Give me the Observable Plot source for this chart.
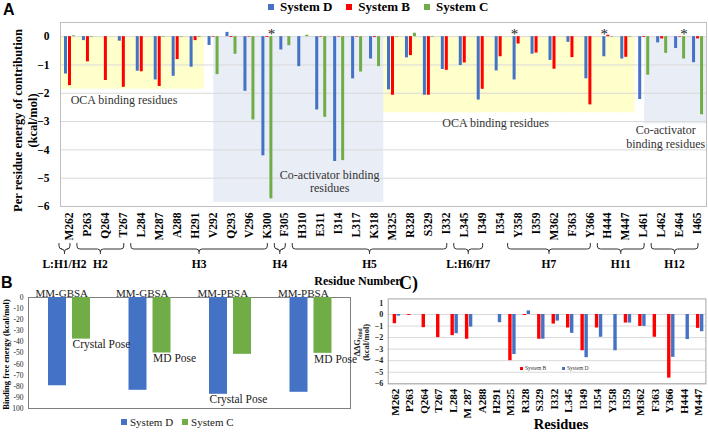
<!DOCTYPE html>
<html><head><meta charset="utf-8">
<script src="https://cdn.jsdelivr.net/npm/d3@7"></script>
<script src="https://cdn.jsdelivr.net/npm/@observablehq/plot@0.6"></script>
<style>
html,body{margin:0;padding:0;background:#fff;}
#wrap{position:relative;width:708px;height:433px;overflow:hidden;font-family:"Liberation Serif","Times New Roman",serif;color:#000;}
.abs{position:absolute;}
.leg{display:flex;align-items:center;white-space:nowrap;}
.sw{display:inline-block;}
</style></head><body><div id="wrap"></div>
<script>
// ---------- Panel A data ----------
const residues = ["M262","P263","Q264","T267","L284","M287","A288","H291","V292","Q293","V296","K300","F305","H310","E311","I314","L317","K318","M325","R328","S329","I332","L345","I349","I354","Y358","I359","M362","F363","Y366","H444","M447","L461","L462","E464","I465"];
const systemD = [-1.32,-0.14,0,-0.16,-1.22,-1.53,-1.4,-1.08,-0.31,0.15,-1.93,-4.21,-0.47,-1.06,-2.59,-4.41,-1.49,-0.79,-1.88,-0.75,-2.07,-1.16,-1.02,-2.24,-1.21,-1.53,-0.62,-0.84,-0.2,-1.49,-0.71,-0.79,-2.22,-0.22,-0.42,-0.92];
const systemB = [-1.73,-0.89,-1.55,-1.79,-1.24,-1.76,-0.81,-0.14,-0.02,-0.03,-0.02,-0.03,0,0,-0.02,-0.02,-0.02,-0.03,-2.07,-0.67,-2.07,-1.19,-0.93,-1.86,-0.71,-0.26,-0.58,-1.15,-0.74,-2.41,0.05,-0.73,-0.03,-0.08,-0.02,-0.08];
const systemC = [0.03,-0.02,0,0,0,-0.02,-0.02,-0.03,-1.34,-0.62,-2.94,-5.73,-0.32,0.05,-2.85,-4.38,-1.25,-1.06,-0.02,0.12,-0.02,0,0,0,0,0,0,0,0,0,-0.02,-0.02,-1.36,-0.59,-0.79,-2.76];
const systemsA = ["System D","System B","System C"];
const yTicksA = [0,-1,-2,-3,-4,-5,-6];
const helixLabels = ["L:H1/H2","H2","H3","H4","H5","L:H6/H7","H7","H11","H12"];
const helixFrom = ["M262","P263","L284","F305","H310","L345","Y358","H444","L462"];
const helixTo = ["M262","T267","K300","F305","I332","I349","Y366","L461","I465"];
const regionKinds = ["oca","coact","oca","coact"];
const regionFrom = ["M262","V292","M325","L461"];
const regionTo = ["H291","K318","M447","I465"];
const regionDepth = [-1.85,-5.85,-2.68,-3.07];
const regionText = ["OCA binding residues","Co-activator binding\nresidues","OCA binding residues","Co-activator\nbinding residues"];
const regionTextAt = ["M262","E311","I354","L462"];
const regionTextY = [-2.23,-5.1,-3.04,-3.52];
const starResidues = ["K300","Y358","H444","E464"];
const starSystems = ["System C","System D","System D","System C"];

// ---------- Panel B data ----------
const bMethods = ["MM-GBSA","MM-GBSA","MM-PBSA","MM-PBSA"];
const bPoses = ["Crystal Pose","MD Pose","Crystal Pose","MD Pose"];
const bSystemD = [-79.5,-83.6,-87.2,-85.4];
const bSystemC = [-37.5,-50,-51.2,-50.3];
const bPoseUnder = ["System C","System C","System D","System C"];
const bTicks = [0,-10,-20,-30,-40,-50,-60,-70,-80,-90,-100];

// ---------- Panel C data ----------
const cResidues = ["M262","P263","Q264","T267","L284","M 287","A288","H291","M325","R328","S329","I332","L345","I349","I354","Y358","I359","M362","F363","Y366","H444","M447"];
const cSystemB = [-0.8,-0.08,-1.14,-2.0,-1.83,-2.14,0,0,-4.0,-0.09,-2.14,-0.83,-1.17,-3.14,-1.17,0,-0.74,-1.03,-1.97,-5.51,0,-1.2];
const cSystemD = [-0.14,0,0,0,-1.66,-1.09,0,-0.71,-3.46,0.31,-2.14,-0.57,-1.63,-3.74,-1.97,-3.14,-0.74,-1.03,0,-3.71,-2.17,-1.49];
const cTicks = [1,0,-1,-2,-3,-4,-5,-6];

// ---------- styles ----------
const BLUE = "#4472C4", RED = "#FF0000", GREEN = "#70AD47";
const colorsA = [BLUE, RED, GREEN];
const SERIF = "'Liberation Serif','Times New Roman',serif";
const wrap = document.getElementById("wrap");

function place(el, left, top) {
  const d = document.createElement("div");
  d.className = "abs"; d.style.left = left + "px"; d.style.top = top + "px";
  d.appendChild(el); wrap.appendChild(d); return d;
}
function html(s, left, top, css) {
  const d = document.createElement("div");
  d.className = "abs"; d.style.left = left + "px"; d.style.top = top + "px";
  d.style.cssText += css || ""; d.innerHTML = s; wrap.appendChild(d); return d;
}

// ================= Panel A =================
const WA = 708, HA = 292, mA = {t: 22, r: 2, b: 86, l: 60};
const bwA = (WA - mA.l - mA.r) / residues.length;
const barW = 3, sysOff = [4, 8, 12];
const dataA = residues.flatMap((r, i) => [
  {res: r, sys: "System D", v: systemD[i]},
  {res: r, sys: "System B", v: systemB[i]},
  {res: r, sys: "System C", v: systemC[i]}
]);
const cells = [];
regionKinds.forEach((kind, j) => {
  const i0 = residues.indexOf(regionFrom[j]), i1 = residues.indexOf(regionTo[j]);
  for (let i = i0; i <= i1; i++) cells.push({res: residues[i], depth: regionDepth[j], kind, lead: i === i0});
});
const fillOf = {oca: "#FFFFCC", coact: "#E9EDF6"};
const regionMarks = [
  Plot.barY(cells.filter(c => c.kind === "oca"), {x: "res", y1: 0, y2: "depth", fill: fillOf.oca, stroke: fillOf.oca, strokeWidth: 0.6}),
  Plot.barY(cells.filter(c => c.kind === "coact" && !c.lead), {x: "res", y1: 0, y2: "depth", fill: fillOf.coact, stroke: fillOf.coact, strokeWidth: 0.6}),
  Plot.barY(cells.filter(c => c.kind === "coact" && c.lead), {x: "res", y1: 0, y2: "depth", fill: fillOf.coact, stroke: fillOf.coact, strokeWidth: 0.6, insetLeft: 10})
];
const regionDx = [54.5, 9, -4.5, 4];
const regionLabelMarks = regionText.map((t, j) => Plot.text([{at: regionTextAt[j], y: regionTextY[j], t}], {
  x: "at", y: "y", text: "t", dx: regionDx[j], fontSize: 12, lineHeight: 1.15, fill: "#333", fontWeight: "normal"
}));
const barsA = systemsA.map((s, k) => Plot.barY(dataA.filter(d => d.sys === s), {
  x: "res", y1: 0, y2: "v", fill: colorsA[k], insetLeft: sysOff[k], insetRight: bwA - sysOff[k] - barW
}));
const starMarks = starResidues.map((r, j) => {
  const k = systemsA.indexOf(starSystems[j]);
  return Plot.text([{res: r}], {x: "res", y: 0, text: () => "*", dx: sysOff[k] + barW / 2 - bwA / 2, dy: -2, fontSize: 15, fill: "#222"});
});

const chartA = Plot.plot({
  width: WA, height: HA, marginTop: mA.t, marginRight: mA.r, marginBottom: mA.b, marginLeft: mA.l,
  style: {fontFamily: SERIF, background: "none", overflow: "visible"},
  x: {domain: residues, padding: 0, round: false},
  y: {domain: [-6, 0.5]},
  marks: [
    ...regionMarks,
    Plot.ruleY(yTicksA, {stroke: "#d9d9d9", strokeWidth: 1}),
    Plot.frame({stroke: "#bfbfbf"}),
    Plot.axisY(yTicksA, {tickSize: 0, tickPadding: 11, fontSize: 11.5, fontWeight: "bold", fill: "#000", label: null}),
    Plot.axisX({tickRotate: -90, tickSize: 0, tickPadding: 6, fontSize: 11.5, fontWeight: "bold", fill: "#000", label: null}),
    ...barsA,
    ...starMarks,
    ...regionLabelMarks,
    Plot.text(["Per residue energy of contribution\n(kcal/mol)"], {text: d => d, frameAnchor: "left", textAnchor: "middle", rotate: -90, dx: -35.5, dy: 6, fontSize: 12.5, fontWeight: "bold", lineHeight: 1.2, fill: "#000"}),
    Plot.text(["Residue Number"], {text: d => d, frameAnchor: "bottom", textAnchor: "middle", dy: 78, dx: -26, fontSize: 12, fontWeight: "bold", fill: "#000"})
  ]
});
place(chartA, 0, 0);

// helix brackets, positioned through Plot's own x / y scales
(function () {
  const xs = chartA.scale("x"), ys = chartA.scale("y");
  const bw = xs.bandwidth || bwA;
  const yb = ys.apply(-6);
  const g = d3.select(chartA).append("g");
  helixLabels.forEach((lab, j) => {
    const x0 = xs.apply(helixFrom[j]) - 1;
    const x1 = xs.apply(helixTo[j]) + bw - 8;
    const m = (x0 + x1) / 2;
    const yt = yb + 37, yh = yb + 43, yd = yb + 48;
    g.append("path")
      .attr("d", `M${x0},${yt} L${x0},${yh - 3} Q${x0},${yh} ${x0 + 3},${yh} L${m - 3},${yh} Q${m},${yh} ${m},${yh + 3} L${m},${yd} M${m},${yh + 3} Q${m},${yh} ${m + 3},${yh} L${x1 - 3},${yh} Q${x1},${yh} ${x1},${yh - 3} L${x1},${yt}`)
      .attr("fill", "none").attr("stroke", "#333").attr("stroke-width", 1);
    g.append("text").attr("x", m).attr("y", yb + 62).attr("text-anchor", "middle")
      .attr("font-family", SERIF).attr("font-size", 11.5).attr("font-weight", "bold").attr("fill", "#000").text(lab);
  });
})();

// legend A
(function () {
  const lg = document.createElement("div"); lg.className = "leg";
  lg.style.cssText += "font-weight:bold;font-size:13px;gap:14px;line-height:13px;";
  systemsA.forEach((s, k) => {
    const it = document.createElement("span"); it.className = "leg";
    it.innerHTML = `<span class="sw" style="width:6px;height:6px;background:${colorsA[k]};margin-right:6px"></span>${s}`;
    lg.appendChild(it);
  });
  place(lg, 268, 0);
})();
html("A", 3, 1, "font-family:'Liberation Sans',Arial,sans-serif;font-weight:bold;font-size:16px;line-height:18px;");

// ================= Panel B =================
const WB = 355, HB = 150, mB = {t: 14, r: 5, b: 25, l: 28};
const bKeys = bMethods.map((_, i) => String(i));
const bwB = (WB - mB.l - mB.r) / bKeys.length;
const bOff = {"System D": 20, "System C": 44}, bBarW = 18;
const dataB = bKeys.flatMap((k, i) => [
  {g: k, sys: "System D", v: bSystemD[i], method: bMethods[i], pose: bPoses[i], under: bPoseUnder[i]},
  {g: k, sys: "System C", v: bSystemC[i], method: bMethods[i], pose: bPoses[i], under: bPoseUnder[i]}
]);
const chartB = Plot.plot({
  width: WB, height: HB, marginTop: mB.t, marginRight: mB.r, marginBottom: mB.b, marginLeft: mB.l,
  style: {fontFamily: SERIF, background: "none", overflow: "visible"},
  x: {domain: bKeys, padding: 0, round: false, axis: null},
  y: {domain: [-100, 0]},
  marks: [
    Plot.frame({stroke: "#7f7f7f"}),
    Plot.axisY(bTicks, {tickSize: 0, tickPadding: 5, fontSize: 7.5, fill: "#222", label: null, tickFormat: d => d === -100 ? "100" : String(d)}),
    Plot.barY(dataB.filter(d => d.sys === "System D"), {x: "g", y1: 0, y2: "v", fill: BLUE, insetLeft: bOff["System D"], insetRight: bwB - bOff["System D"] - bBarW}),
    Plot.barY(dataB.filter(d => d.sys === "System C"), {x: "g", y1: 0, y2: "v", fill: GREEN, insetLeft: bOff["System C"], insetRight: bwB - bOff["System C"] - bBarW}),
    Plot.text(dataB.filter(d => d.sys === "System D"), {x: "g", y: 0, text: "method", lineAnchor: "bottom", dy: -1, dx: -7, fontSize: 11, fill: "#222"}),
    ...["System D", "System C"].map(s => Plot.text(dataB.filter(d => d.sys === s && d.under === s), {
      x: "g", y: "v", text: "pose", textAnchor: "start", lineAnchor: "top", dy: 1, dx: bOff[s] - bwB / 2, fontSize: 11.5, fill: "#222"
    })),
    Plot.text(["Binding free energy (kcal/mol)"], {text: d => d, frameAnchor: "left", textAnchor: "middle", rotate: -90, dx: -22, dy: 1.5, fontSize: 8.5, fontWeight: "bold", fill: "#000"})
  ]
});
place(chartB, 0, 283);
html("B", 1, 274, "font-family:'Liberation Sans',Arial,sans-serif;font-weight:bold;font-size:16px;line-height:18px;");
(function () {
  const lg = document.createElement("div"); lg.className = "leg";
  lg.style.cssText += "font-size:11px;gap:9px;color:#222;";
  [["System D", BLUE], ["System C", GREEN]].forEach(([s, c]) => {
    const it = document.createElement("span"); it.className = "leg";
    it.innerHTML = `<span class="sw" style="width:6px;height:6px;background:${c};margin-right:3px"></span>${s}`;
    lg.appendChild(it);
  });
  place(lg, 121, 416);
})();

// ================= Panel C =================
const WC = 356, HC = 150, mC = {t: 15.4, r: 2.6, b: 49.7, l: 35.7};
const bwC = (WC - mC.l - mC.r) / cResidues.length;
const cOff = {"System B": 5, "System D": 9}, cBarW = 3.4;
const dataC = cResidues.flatMap((r, i) => [
  {res: r, sys: "System B", v: cSystemB[i]},
  {res: r, sys: "System D", v: cSystemD[i]}
]);
const chartC = Plot.plot({
  width: WC, height: HC, marginTop: mC.t, marginRight: mC.r, marginBottom: mC.b, marginLeft: mC.l,
  style: {fontFamily: SERIF, background: "none", overflow: "visible"},
  x: {domain: cResidues, padding: 0, round: false},
  y: {domain: [-6, 1.35]},
  marks: [
    Plot.ruleY(cTicks.filter(t => t <= 0), {stroke: "#d9d9d9"}),
    Plot.frame({stroke: "#a6a6a6"}),
    Plot.axisY(cTicks, {tickSize: 0, tickPadding: 5, fontSize: 8, fontWeight: "bold", fill: "#222", label: null}),
    Plot.axisX({tickRotate: -90, tickSize: 0, tickPadding: 5, fontSize: 11, fontWeight: "bold", fill: "#000", label: null}),
    Plot.barY(dataC.filter(d => d.sys === "System B"), {x: "res", y1: 0, y2: "v", fill: RED, insetLeft: cOff["System B"], insetRight: bwC - cOff["System B"] - cBarW}),
    Plot.barY(dataC.filter(d => d.sys === "System D"), {x: "res", y1: 0, y2: "v", fill: BLUE, insetLeft: cOff["System D"], insetRight: bwC - cOff["System D"] - cBarW}),
    Plot.text(["Residues"], {text: d => d, frameAnchor: "bottom", textAnchor: "middle", dy: 44.7, dx: 14, fontSize: 14.5, fontWeight: "bold", fill: "#000"})
  ]
});
place(chartC, 352, 283);
(function () {
  const svg = d3.select(chartC);
  const ys = chartC.scale("y");
  const yc = (ys.apply(-6) + ys.apply(1.35)) / 2 + 1.5;
  const t1 = svg.append("text").attr("transform", `translate(8,${yc}) rotate(-90)`).attr("text-anchor", "middle")
    .attr("font-family", SERIF).attr("font-size", 8.5).attr("font-weight", "bold").attr("fill", "#222");
  t1.append("tspan").text("ΔΔG");
  t1.append("tspan").attr("font-size", 5.5).attr("dy", 2).text("bind");
  svg.append("text").attr("transform", `translate(16.5,${yc}) rotate(-90)`).attr("text-anchor", "middle")
    .attr("font-family", SERIF).attr("font-size", 8.5).attr("font-weight", "bold").attr("fill", "#222").text("(kcal/mol)");
})();
html("C)", 399, 273, "font-weight:bold;font-size:18px;line-height:20px;");
(function () {
  [["System B", RED, 520], ["System D", BLUE, 562]].forEach(([s, c, x]) => {
    html(`<span class="leg" style="font-size:5.5px;color:#333"><span class="sw" style="width:3px;height:3px;background:${c};margin-right:2px"></span>${s}</span>`, x, 365);
  });
})();
</script></body></html>
